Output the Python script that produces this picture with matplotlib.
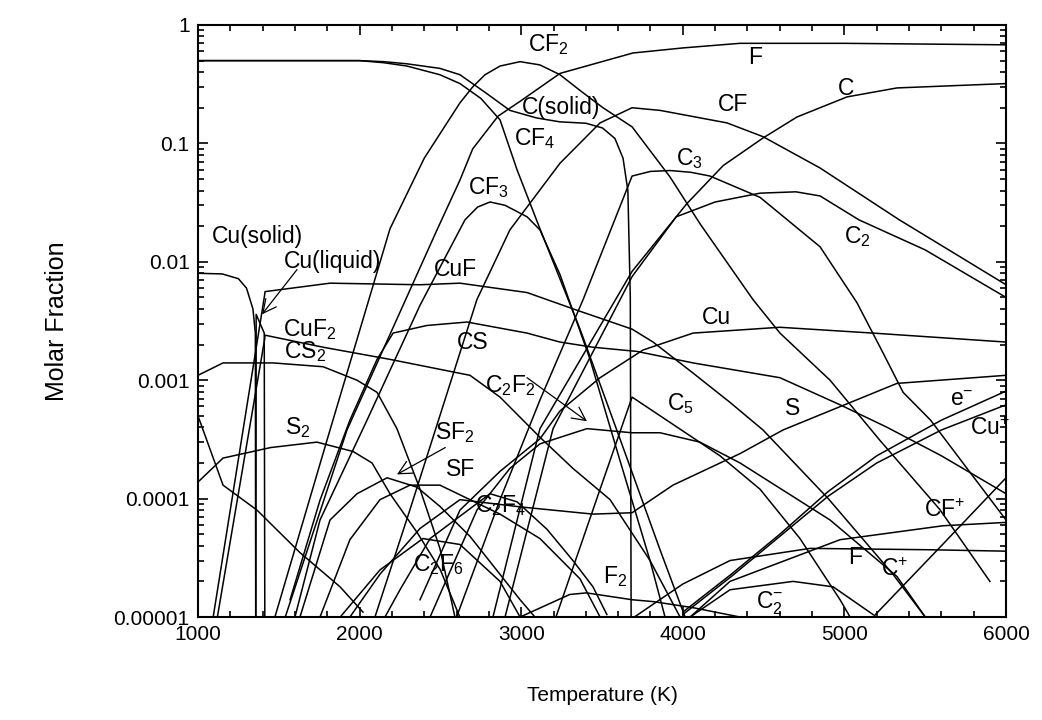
import matplotlib
matplotlib.use("Agg")
import matplotlib.pyplot as plt
from matplotlib.ticker import MultipleLocator, LogLocator, FixedLocator, FixedFormatter, NullFormatter

plt.rcParams['font.family'] = ['Liberation Sans', 'DejaVu Sans']
plt.rcParams['mathtext.default'] = 'regular'

# ---------------- data (temperature K, molar fraction) ----------------
T_F = [1540, 1922, 2479, 2621, 2700, 2857, 3000, 3240, 3691, 4000, 4353, 5000, 6000]
X_F = [1e-5, 3.8e-4, 0.0186, 0.049, 0.09, 0.17, 0.23, 0.39, 0.58, 0.64, 0.70, 0.70, 0.68]

T_CF2 = [1476, 1817, 2188, 2400, 2621, 2700, 2776, 2869, 2993, 3116, 3240, 3364, 3506, 3686, 3921, 4106, 4434, 4601, 4911, 5220, 5590, 5900]
X_CF2 = [1e-5, 3.8e-4, 0.019, 0.075, 0.22, 0.30, 0.38, 0.45, 0.49, 0.46, 0.38, 0.28, 0.2, 0.138, 0.052, 0.021, 0.0048, 0.0025, 1e-3, 3.1e-4, 8.1e-5, 2e-5]

T_CF4 = [1000, 2000, 2150, 2293, 2497, 2621, 2750, 2869, 2974, 3116, 3364, 3611, 3859, 4014]
X_CF4 = [0.5, 0.5, 0.48, 0.45, 0.38, 0.32, 0.24, 0.158, 0.06, 0.019, 0.0027, 3.2e-4, 3.7e-5, 1e-5]

T_Cs = [1000, 2000, 2150, 2293, 2497, 2621, 2776, 2930, 3095, 3240, 3400, 3503, 3580, 3630, 3660, 3675, 3682]
X_Cs = [0.5, 0.5, 0.49, 0.47, 0.43, 0.38, 0.27, 0.19, 0.164, 0.152, 0.148, 0.135, 0.11, 0.075, 0.04, 0.005, 1e-6]

T_CF = [2095, 2312, 2726, 2930, 3240, 3488, 3686, 3859, 4273, 4496, 4849, 5340, 6000]
X_CF = [1e-5, 8.1e-5, 0.0048, 0.0186, 0.068, 0.149, 0.2, 0.19, 0.149, 0.114, 0.062, 0.0226, 0.0064]

T_CF3 = [1600, 1755, 2046, 2374, 2652, 2730, 2807, 2900, 3036, 3116, 3240, 3426, 3611, 3797, 3890]
X_CF3 = [1e-5, 6.6e-5, 4.6e-4, 0.0043, 0.0226, 0.029, 0.032, 0.030, 0.024, 0.0186, 0.0078, 0.0015, 2.1e-4, 3e-5, 1e-5]

T_C = [2825, 3116, 3686, 4025, 4250, 4496, 4706, 5016, 5325, 6000]
X_C = [1e-5, 3.9e-4, 0.0083, 0.031, 0.065, 0.111, 0.167, 0.247, 0.294, 0.32]

T_C2 = [2900, 3197, 3686, 3959, 4200, 4478, 4700, 4849, 5090, 5500, 6000]
X_C2 = [1e-5, 3.9e-4, 0.0075, 0.024, 0.032, 0.038, 0.039, 0.036, 0.0226, 0.0126, 0.005]

T_C3 = [2600, 2869, 3116, 3383, 3686, 3800, 3921, 4050, 4168, 4478, 4849, 5078, 5239, 5363, 5533, 6000]
X_C3 = [1e-5, 9.8e-5, 6.8e-4, 0.0048, 0.053, 0.058, 0.059, 0.057, 0.053, 0.035, 0.0134, 0.0045, 1.7e-3, 7.9e-4, 4.6e-4, 6.6e-5]

T_C5 = [3215, 3488, 3686, 3921, 4230, 4478, 4725, 4973, 5035]
X_C5 = [1e-5, 1.2e-4, 7.2e-4, 4.4e-4, 2.3e-4, 1.2e-4, 4.6e-5, 1.4e-5, 1e-5]

T_Cu_s = [1000, 1150, 1250, 1300, 1340, 1355, 1358]
X_Cu_s = [0.008, 0.0079, 0.0072, 0.006, 0.004, 0.0025, 1e-6]

T_Cu_l = [1358, 1360, 1385, 1410, 1415]
X_Cu_l = [1e-6, 0.0036, 0.003, 0.0025, 1e-6]

T_CuF = [1094, 1412, 1415, 1817, 2374, 2621, 3036, 3345, 3686, 3816, 4063, 4292, 4496, 4900, 5300, 5500]
X_CuF = [1e-5, 0.0052, 0.0056, 0.0066, 0.0064, 0.0066, 0.0055, 0.0039, 0.0027, 0.0021, 0.00115, 6.5e-4, 3.8e-4, 1e-4, 2.3e-5, 1e-5]

T_CuF2 = [1120, 1412, 1415, 1774, 2188, 2683, 2869, 3116, 3320, 3550, 3797, 3983]
X_CuF2 = [1e-5, 0.0022, 0.0024, 0.0019, 0.0015, 0.0011, 7.2e-4, 3.3e-4, 1.8e-4, 9.8e-5, 3e-5, 1e-5]

T_Cu = [2374, 2621, 2869, 3116, 3240, 3488, 3754, 4063, 4600, 5177, 6000]
X_Cu = [1.4e-5, 8e-5, 1.7e-4, 3.2e-4, 5.5e-4, 1.05e-3, 1.8e-3, 2.5e-3, 2.8e-3, 2.5e-3, 2.1e-3]

T_CS = [1570, 1755, 1940, 2108, 2207, 2417, 2665, 3036, 3240, 3444, 3717, 4063, 4601, 4973, 5264, 5600, 6000]
X_CS = [1.4e-5, 9.7e-5, 4.6e-4, 1.5e-3, 2.5e-3, 2.9e-3, 3.1e-3, 2.5e-3, 2.1e-3, 1.9e-3, 1.75e-3, 1.4e-3, 1.05e-3, 6.2e-4, 4e-4, 2.3e-4, 1.1e-4]

T_CS2 = [1000, 1155, 1464, 1774, 1984, 2108, 2231, 2374, 2497, 2590]
X_CS2 = [1.1e-3, 1.4e-3, 1.4e-3, 1.3e-3, 1e-3, 7.9e-4, 3.9e-4, 1.2e-4, 3.8e-5, 1e-5]

T_S2 = [1000, 1155, 1450, 1736, 1960, 2077, 2188, 2355, 2500, 2620]
X_S2 = [1.38e-4, 2.2e-4, 2.7e-4, 3.0e-4, 2.5e-4, 2.0e-4, 1.1e-4, 5.2e-5, 2.5e-5, 1e-5]

T_Sx = [1000, 1155, 1365, 1631, 1879, 2021]
X_Sx = [5e-4, 1.3e-4, 8e-5, 3.5e-5, 1.8e-5, 1.1e-5]

T_S = [1940, 2126, 2374, 2621, 3000, 3444, 3686, 3939, 4354, 4620, 5325, 6000]
X_S = [1e-5, 2.3e-5, 5.6e-5, 9.8e-5, 8.5e-5, 7.4e-5, 7.6e-5, 1.3e-4, 2.4e-4, 3.8e-4, 9.4e-4, 1.1e-3]

T_C2F2 = [2436, 2726, 2930, 3116, 3407, 3686, 3859, 4106, 4354, 4911, 5325, 5500]
X_C2F2 = [1e-5, 8e-5, 1.8e-4, 2.9e-4, 3.9e-4, 3.6e-4, 3.6e-4, 3e-4, 2e-4, 6.6e-5, 2.2e-5, 1e-5]

T_SF2 = [1631, 1817, 1984, 2170, 2355, 2497, 2683, 2993, 3085]
X_SF2 = [1e-5, 6.6e-5, 1.1e-4, 1.5e-4, 1.25e-4, 8.6e-5, 4.8e-5, 1.4e-5, 1e-5]

T_SF = [1755, 1940, 2126, 2312, 2497, 2683, 2869, 3116, 3364, 3488]
X_SF = [1e-5, 4.5e-5, 9.8e-5, 1.3e-4, 1.3e-4, 9.8e-5, 7.4e-5, 4.6e-5, 2.1e-5, 1e-5]

T_C2F4 = [2157, 2250, 2436, 2807, 2974, 3160, 3320, 3444, 3530]
X_C2F4 = [1e-5, 1.7e-5, 4.6e-5, 1.1e-4, 9.4e-5, 5.5e-5, 3e-5, 1.8e-5, 1.05e-5]

T_C2F6 = [1880, 2126, 2392, 2621, 2869, 2993]
X_C2F6 = [1e-5, 2.5e-5, 4.6e-5, 4.1e-5, 2e-5, 1e-5]

T_F2 = [2993, 3300, 3404, 3686, 3816, 4063, 4354]
X_F2 = [1e-5, 1.55e-5, 1.6e-5, 1.4e-5, 1.35e-5, 1.2e-5, 1e-5]

T_C2m = [4045, 4292, 4682, 4930, 5177]
X_C2m = [1e-5, 1.7e-5, 2.0e-5, 1.8e-5, 1.05e-5]

T_Fm = [3700, 4000, 4292, 4787, 5530, 6000]
X_Fm = [1e-5, 1.9e-5, 3.0e-5, 3.8e-5, 3.7e-5, 3.6e-5]

T_CFp = [4045, 4292, 4973, 5610, 6000]
X_CFp = [1e-5, 2e-5, 4.5e-5, 5.9e-5, 6.3e-5]

T_Cp = [5177, 5600, 6000]
X_Cp = [1e-5, 4e-5, 1.5e-4]

T_em = [4000, 4300, 4600, 4900, 5200, 5600, 6000]
X_em = [1.1e-5, 2.3e-5, 5e-5, 1.15e-4, 2.3e-4, 4.6e-4, 8.1e-4]

T_Cup = [4000, 4300, 4600, 4900, 5200, 5600, 6000]
X_Cup = [1.05e-5, 2.2e-5, 4.8e-5, 1.05e-4, 2e-4, 3.8e-4, 6.2e-4]

series = [
    (T_F, X_F), (T_CF2, X_CF2), (T_CF4, X_CF4), (T_Cs, X_Cs), (T_CF, X_CF),
    (T_CF3, X_CF3), (T_C, X_C), (T_C2, X_C2), (T_C3, X_C3), (T_C5, X_C5),
    (T_Cu_s, X_Cu_s), (T_Cu_l, X_Cu_l), (T_CuF, X_CuF), (T_CuF2, X_CuF2),
    (T_Cu, X_Cu), (T_CS, X_CS), (T_CS2, X_CS2), (T_S2, X_S2), (T_Sx, X_Sx),
    (T_S, X_S), (T_C2F2, X_C2F2), (T_SF2, X_SF2), (T_SF, X_SF),
    (T_C2F4, X_C2F4), (T_C2F6, X_C2F6), (T_F2, X_F2), (T_C2m, X_C2m),
    (T_Fm, X_Fm), (T_CFp, X_CFp), (T_Cp, X_Cp), (T_em, X_em), (T_Cup, X_Cup),
]

# label text and anchor (T, x)
labels = [
    ("F", 4447, 0.53), ("CF$_2$", 3166, 0.68), ("C", 5010, 0.29), ("CF", 4311, 0.215),
    ("C(solid)", 3246, 0.2), ("CF$_4$", 3085, 0.11), ("C$_3$", 4038, 0.075),
    ("CF$_3$", 2800, 0.042), ("C$_2$", 5078, 0.0163), ("Cu(solid)", 1365, 0.0163),
    ("Cu(liquid)", 1830, 0.0100), ("CuF", 2590, 0.0086), ("CS", 2702, 0.0021),
    ("Cu", 4205, 0.0034), ("CuF$_2$", 1693, 0.0027), ("CS$_2$", 1662, 0.00173),
    ("C$_2$F$_2$", 2930, 0.0009), ("C$_5$", 3983, 0.00063), ("S", 4682, 0.00058),
    ("e$^{-}$", 5728, 0.00069), ("Cu$^{+}$", 5900, 0.00039), ("S$_2$", 1619, 0.0004),
    ("SF$_2$", 2590, 0.00036), ("SF", 2627, 0.000175), ("C$_2$F$_4$", 2869, 8.7e-5),
    ("CF$^{+}$", 5622, 7.9e-5), ("C$_2$F$_6$", 2485, 2.8e-5), ("F$^{-}$", 5097, 3.2e-5),
    ("C$^{+}$", 5313, 2.5e-5), ("F$_2$", 3580, 2.2e-5), ("C$_2^{-}$", 4540, 1.3e-5),
]

arrows = [  # (tail T, tail x, head T, head x)
    (1613, 8.6e-3, 1396, 3.6e-3),
    (3036, 1.05e-3, 3407, 4.5e-4),
    (2530, 2.7e-4, 2231, 1.6e-4),
]

# ---------------- figure ----------------
fig = plt.figure(figsize=(10.42, 7.2), dpi=100)
ax = fig.add_axes([0.190, 0.143, 0.7755, 0.8223])

for T, X in series:
    ax.plot(T, X, color='black', lw=1.1)

ax.set_yscale('log')
ax.set_xlim(1000, 6000)
ax.set_ylim(1e-5, 1)

for txt, t, x in labels:
    ax.text(t, x, txt, fontsize=16.5, ha='center', va='center')

for t0, x0, t1, x1 in arrows:
    ax.annotate('', xy=(t1, x1), xytext=(t0, x0),
                arrowprops=dict(arrowstyle='->', color='black', lw=0.9,
                                mutation_scale=24, shrinkA=0, shrinkB=0))

ax.xaxis.set_major_locator(MultipleLocator(1000))
ax.xaxis.set_minor_locator(MultipleLocator(200))
ax.yaxis.set_major_locator(FixedLocator([1e-5, 1e-4, 1e-3, 1e-2, 1e-1, 1]))
ax.yaxis.set_major_formatter(FixedFormatter(['0.00001', '0.0001', '0.001', '0.01', '0.1', '1']))
ax.yaxis.set_minor_locator(LogLocator(base=10, subs=[2, 3, 4, 5, 6, 7, 8, 9], numticks=20))
ax.yaxis.set_minor_formatter(NullFormatter())

ax.tick_params(which='both', direction='in', top=True, right=True, labelsize=15, width=1.2)
ax.tick_params(which='major', length=7, pad=6)
ax.tick_params(which='minor', length=4)
for sp in ax.spines.values():
    sp.set_linewidth(1.5)

ax.set_xlabel('Temperature (K)', fontsize=15, labelpad=30)
ax.set_ylabel('Molar Fraction', fontsize=18, labelpad=32)

fig.savefig('out.png', dpi=100)
